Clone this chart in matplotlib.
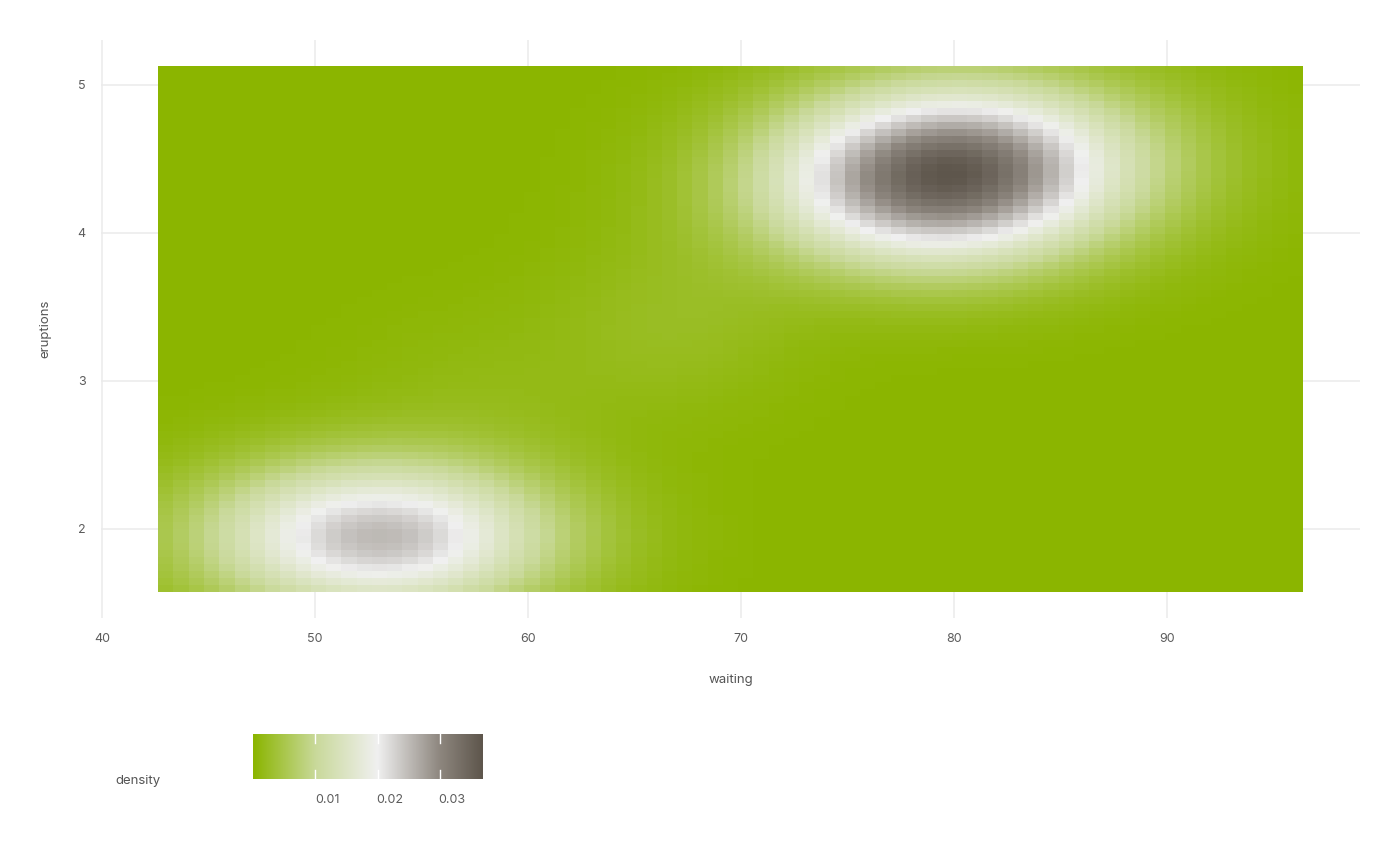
import numpy as np
import matplotlib
matplotlib.use("Agg")
import matplotlib.pyplot as plt
from matplotlib.colors import LinearSegmentedColormap, Normalize

plt.rcParams['font.family'] = ['Inter', 'DejaVu Sans']

# grid of the density estimate (75 x 75 tiles over the data range)
waiting_range = [43, 96]
eruptions_range = [1.6, 5.1]
n_grid = 75

# blobs: centre, spread and weight of each
blob_waiting = [79.0, 80.4, 51.0, 55.0, 67.0, 58.0, 90.0]
blob_eruptions = [4.22, 4.56, 1.95, 1.95, 3.4, 2.9, 4.5]
blob_sd_waiting = [5.6, 5.6, 5.2, 5.2, 4.0, 4.5, 3.5]
blob_sd_eruptions = [0.36, 0.36, 0.35, 0.35, 0.4, 0.4, 0.4]
blob_weight = [0.263, 0.263, 0.155, 0.155, 0.022, 0.014, 0.01]
density_peak = 0.0369

fill_values = [0.0, 0.01, 0.02, 0.03, 0.0369]
fill_colors = ['#8BB500', '#C9D99A', '#F0F0F0', '#8E877F', '#5E564C']

x_ticks = [40, 50, 60, 70, 80, 90]
y_ticks = [2, 3, 4, 5]
bar_ticks = [0.01, 0.02, 0.03]

wx = np.linspace(waiting_range[0], waiting_range[1], n_grid)
ey = np.linspace(eruptions_range[0], eruptions_range[1], n_grid)
X, Y = np.meshgrid(wx, ey)
dens = np.zeros_like(X)
for mx, my, sx, sy, w in zip(blob_waiting, blob_eruptions, blob_sd_waiting,
                             blob_sd_eruptions, blob_weight):
    dens += w / (2 * np.pi * sx * sy) * np.exp(
        -0.5 * (((X - mx) / sx) ** 2 + ((Y - my) / sy) ** 2))
dens = dens * density_peak / dens.max()

vmax = fill_values[-1]
cmap = LinearSegmentedColormap.from_list(
    'dens', [(v / vmax, c) for v, c in zip(fill_values, fill_colors)])
norm = Normalize(0, vmax)

fig = plt.figure(figsize=(14, 8.66), dpi=100)
ax = fig.add_axes([101 / 1400, 1 - 618 / 866, 1259 / 1400, 578 / 866])
ax.pcolormesh(wx, ey, dens, cmap=cmap, norm=norm, shading='nearest',
              zorder=2, antialiased=False)

xr = wx[-1] - wx[0] + (wx[1] - wx[0])
yr = ey[-1] - ey[0] + (ey[1] - ey[0])
x0, x1 = wx[0] - (wx[1] - wx[0]) / 2, wx[-1] + (wx[1] - wx[0]) / 2
y0, y1 = ey[0] - (ey[1] - ey[0]) / 2, ey[-1] + (ey[1] - ey[0]) / 2
ax.set_xlim(x0 - 0.05 * xr, x1 + 0.05 * xr)
ax.set_ylim(y0 - 0.05 * yr, y1 + 0.05 * yr)

ax.set_xticks(x_ticks)
ax.set_yticks(y_ticks)
ax.grid(True, color='#EBEBEB', linewidth=1.1, zorder=0)
ax.set_axisbelow(True)
for s in ax.spines.values():
    s.set_visible(False)
ax.tick_params(length=0, labelsize=9, labelcolor='#5C5C5C', pad=11)
ax.set_xlabel('waiting', fontsize=9.5, color='#555555', labelpad=21)
ax.set_ylabel('eruptions', fontsize=9.5, color='#555555', labelpad=19)

# colour bar legend
cax = fig.add_axes([253 / 1400, 1 - 779 / 866, 230 / 1400, 45 / 866])
grad = np.linspace(0, vmax, 400)[None, :]
cax.imshow(grad, cmap=cmap, norm=norm, aspect='auto',
           extent=[0, vmax, 0, 1], interpolation='bilinear')
for t in bar_ticks:
    cax.plot([t, t], [0.0, 0.2], color='white', lw=1)
    cax.plot([t, t], [0.8, 1.0], color='white', lw=1)
    cax.text(t + 0.00195, -0.34, f'{t:.2f}', ha='center', va='top',
             fontsize=9, color='#5C5C5C')
cax.set_xlim(0, vmax)
cax.set_ylim(0, 1)
cax.axis('off')
fig.text(115 / 1400, 1 - 781 / 866, 'density', ha='left', va='center',
         fontsize=9.5, color='#555555')

fig.savefig('out.png', dpi=100, facecolor='white')
